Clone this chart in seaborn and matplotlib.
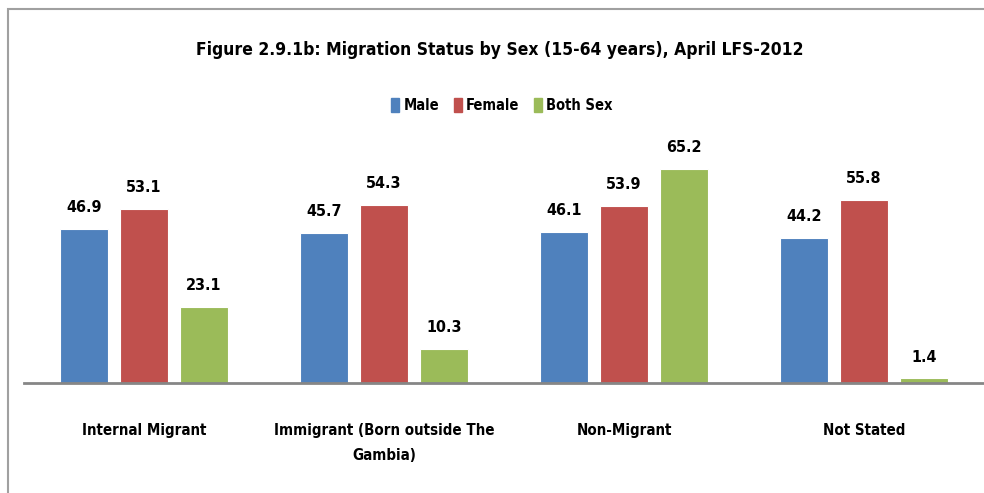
import matplotlib
matplotlib.use('Agg')
import matplotlib.pyplot as plt
import seaborn as sns
import pandas as pd
from matplotlib.patches import Rectangle

# 数据
categories = ['Internal Migrant', 'Immigrant (Born outside The\nGambia)', 'Non-Migrant', 'Not Stated']
series_names = ['Male', 'Female', 'Both Sex']
male = [46.9, 45.7, 46.1, 44.2]
female = [53.1, 54.3, 53.9, 55.8]
both_sex = [23.1, 10.3, 65.2, 1.4]
colors = ['#4F81BD', '#C0504D', '#9BBB59']

sns.set_style('white')
plt.rcParams['font.family'] = ['DejaVu Sans']
plt.rcParams['font.stretch'] = 'condensed'
plt.rcParams['font.weight'] = 'bold'
plt.rcParams['text.color'] = 'black'
plt.rcParams['xtick.color'] = 'black'

# 长表
df = pd.DataFrame({
    'category': categories * 3,
    'series': sum([[s] * len(categories) for s in series_names], []),
    'value': male + female + both_sex,
})

fig = plt.figure(figsize=(9.84, 4.93), dpi=100)
ax = fig.add_axes([24 / 984, 110 / 493, 1 - 24 / 984, 229.7 / 493])

sns.barplot(data=df, x='category', y='value', hue='series', hue_order=series_names,
            order=categories, palette=colors, saturation=1, width=0.75, gap=0.2, ax=ax,
            edgecolor='white', linewidth=0.8, legend=False)

ax.set_ylim(0, 70)
ax.set_xlim(-0.5, 3.5)
ax.set_xlabel('')
ax.set_ylabel('')
ax.set_yticks([])
for side in ['top', 'right', 'left']:
    ax.spines[side].set_visible(False)
ax.spines['bottom'].set_color('#868686')
ax.spines['bottom'].set_linewidth(2)
ax.tick_params(axis='x', length=0, pad=29, labelsize=10.8)
for lbl in ax.get_xticklabels():
    lbl.set_fontweight('bold')
    lbl.set_va('top')
    lbl.set_linespacing(1.85)

# 数值标签
for cont in ax.containers:
    ax.bar_label(cont, fmt='%.1f', padding=10, fontsize=11.5, fontweight='bold')

# 标题与图例
fig.text(0.508, 0.898, 'Figure 2.9.1b: Migration Status by Sex (15-64 years), April LFS-2012',
         ha='center', va='center', fontsize=12.5, fontweight='bold')
handles = [Rectangle((0, 0), 1, 1, color=c) for c in colors]
fig.legend(handles, series_names, loc='center', bbox_to_anchor=(0.51, 0.787), ncol=3,
           frameon=False, fontsize=10.5, handlelength=0.55, handleheight=1.1,
           handletextpad=0.3, columnspacing=1.0)

# 外框
fig.patches.append(Rectangle((8 / 984, -0.1), 1.2, 1 - 8.5 / 493 + 0.1, transform=fig.transFigure,
                             fill=False, edgecolor='#A0A0A0', linewidth=1.5))

fig.savefig('out.png', dpi=100)
